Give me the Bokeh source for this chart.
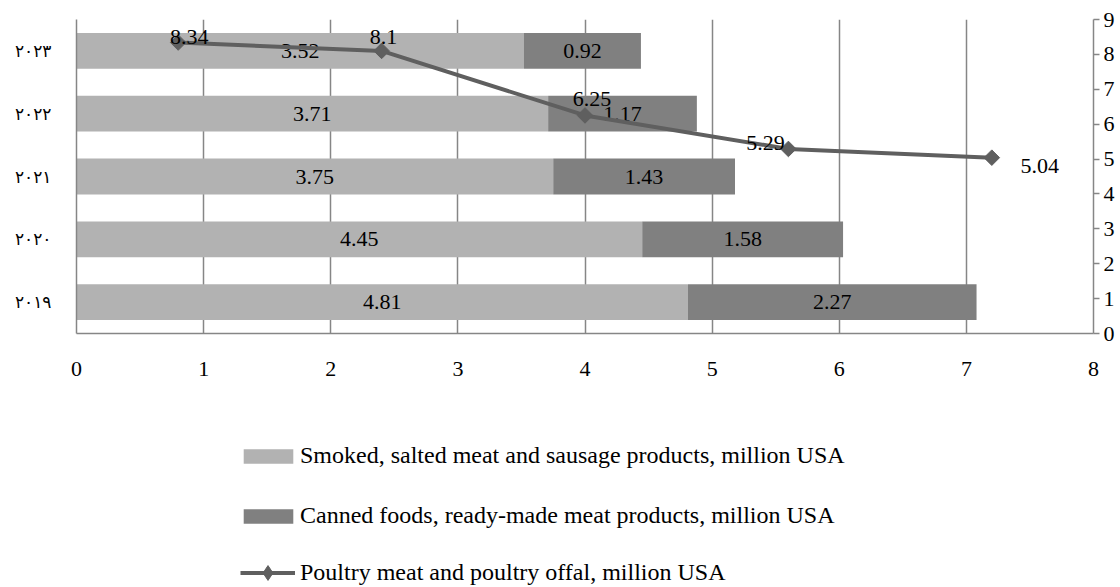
import numpy as np
from bokeh.plotting import figure
from bokeh.layouts import column
from bokeh.models import (ColumnDataSource, Range1d, LinearAxis,
                          FixedTicker, Legend, LegendItem)
from bokeh.core.properties import value
from bokeh.embed import file_html
from bokeh.resources import INLINE

# Years (Arabic-Indic digits), bottom to top on the bar axis
years = ["٢٠١٩", "٢٠٢٠", "٢٠٢١", "٢٠٢٢", "٢٠٢٣"]

# Export values, million USD
smoked = [4.81, 4.45, 3.75, 3.71, 3.52]
canned = [2.27, 1.58, 1.43, 1.17, 0.92]
poultry = [8.34, 8.1, 6.25, 5.29, 5.04]

x_ticks = [0, 1, 2, 3, 4, 5, 6, 7, 8]
right_ticks = [0, 1, 2, 3, 4, 5, 6, 7, 8, 9]

series_names = [
    "Smoked, salted meat and sausage products, million USA",
    "Canned foods, ready-made meat products, million USA",
    "Poultry meat and poultry offal, million USA",
]

# Pixel nudges for the poultry value labels
label_dx = [11, 2, 7, -23, 48]
label_dy = [-6, -14, -16, -6, 8]

LIGHT = "#b2b2b2"
DARK = "#808080"
LINE = "#5f5f5f"
GRID = "#868686"
FONT = "Liberation Serif"
SIZE = "22px"

# Category slots: each year occupies one unit, centred at i + 0.5
n = len(years)
slot = [i + 0.5 for i in range(n)]

p = figure(width=1120, height=420,
           x_range=Range1d(0, 8), y_range=Range1d(0, n),
           output_backend="svg", toolbar_location=None,
           min_border_left=76, min_border_right=27,
           min_border_top=19, min_border_bottom=87)
p.extra_x_ranges = {"line": Range1d(0, n)}
p.extra_y_ranges = {"right": Range1d(0, 9)}
p.outline_line_color = None
p.background_fill_color = "white"

# Stacked horizontal bars
src = ColumnDataSource(dict(pos=slot, smoked=smoked, canned=canned))
bars = p.hbar_stack(["smoked", "canned"], y="pos", height=0.57,
                    fill_color=[LIGHT, DARK], line_color=[LIGHT, DARK],
                    line_width=0, source=src)

# Bar segment labels
bar_lab = ColumnDataSource(dict(
    x=[s / 2 for s in smoked] + [s + c / 2 for s, c in zip(smoked, canned)],
    y=slot + slot,
    t=[f"{v:g}" for v in smoked + canned],
))
p.text(x="x", y="y", text="t", source=bar_lab, text_align="center",
       text_baseline="middle", text_font=value(FONT), text_font_size=SIZE,
       text_color="black")

# Poultry line on the secondary axes
line_src = ColumnDataSource(dict(pos=slot, v=poultry,
                                 t=[f"{v:g}" for v in poultry],
                                 dx=label_dx, dy=label_dy))
p.line("pos", "v", source=line_src, x_range_name="line",
       y_range_name="right", line_color=LINE, line_width=4)
p.scatter("pos", "v", source=line_src, x_range_name="line",
          y_range_name="right", marker="square", angle=np.pi / 4,
          size=11, fill_color=LINE, line_color=LINE)
p.text(x="pos", y="v", text="t", source=line_src, x_range_name="line",
       y_range_name="right", x_offset="dx", y_offset="dy",
       text_align="center", text_baseline="alphabetic",
       text_font=value(FONT), text_font_size=SIZE, text_color="black")

# Axes and grid
p.xaxis.ticker = FixedTicker(ticks=x_ticks)
p.xaxis.major_tick_line_color = None
p.xaxis.minor_tick_line_color = None
p.xaxis.axis_line_color = GRID
p.xaxis.axis_line_width = 1.5
p.xaxis.major_label_standoff = 22
p.xaxis.major_label_text_font = FONT
p.xaxis.major_label_text_font_size = SIZE
p.xaxis.major_label_text_color = "black"

p.yaxis.ticker = FixedTicker(ticks=slot)
p.yaxis.major_label_overrides = {s: y for s, y in zip(slot, years)}
p.yaxis.major_tick_line_color = None
p.yaxis.minor_tick_line_color = None
p.yaxis.axis_line_color = GRID
p.yaxis.axis_line_width = 1.5
p.yaxis.major_label_standoff = 19
p.yaxis.major_label_text_font = "DejaVu Sans"
p.yaxis.major_label_text_font_size = "17px"
p.yaxis.major_label_text_color = "black"

right_axis = LinearAxis(y_range_name="right", ticker=FixedTicker(ticks=right_ticks),
                        major_tick_in=0, major_tick_out=6,
                        minor_tick_line_color=None,
                        axis_line_color=GRID, axis_line_width=1.5,
                        major_tick_line_color=GRID, major_tick_line_width=1.5,
                        major_label_standoff=4,
                        major_label_text_font=FONT,
                        major_label_text_font_size=SIZE,
                        major_label_text_color="black")
p.add_layout(right_axis, "right")

p.xgrid.ticker = FixedTicker(ticks=x_ticks)
p.xgrid.grid_line_color = GRID
p.xgrid.grid_line_width = 1.5
p.ygrid.grid_line_color = None

# Legend strip underneath; its swatch renderers sit outside the strip's view
leg = figure(width=1120, height=167, x_range=Range1d(0, 1), y_range=Range1d(0, 1),
             x_axis_type=None, y_axis_type=None, output_backend="svg",
             toolbar_location=None, min_border=0)
leg.outline_line_color = None
leg.grid.grid_line_color = None

off = [-5.0]
sw_light = leg.hbar(y=off, left=off, right=off, height=1,
                    fill_color=LIGHT, line_color=LIGHT, line_width=0)
sw_dark = leg.hbar(y=off, left=off, right=off, height=1,
                   fill_color=DARK, line_color=DARK, line_width=0)
sw_line = leg.line(x=off, y=off, line_color=LINE, line_width=4)
sw_mark = leg.scatter(x=off, y=off, marker="diamond",
                      fill_color=LINE, line_color=LINE)

LEG_SIZE = "24px"
bar_legend = Legend(
    items=[LegendItem(label=series_names[0], renderers=[sw_light]),
           LegendItem(label=series_names[1], renderers=[sw_dark])],
    location=(161, 58), glyph_width=62, glyph_height=18,
    label_height=25, label_standoff=1, spacing=33, padding=0, margin=0,
    background_fill_alpha=0, border_line_color=None,
    label_text_font=FONT, label_text_font_size=LEG_SIZE, label_text_color="black")
line_legend = Legend(
    items=[LegendItem(label=series_names[2], renderers=[sw_line, sw_mark])],
    location=(164, -4), glyph_width=55, glyph_height=37,
    label_height=25, label_standoff=5, padding=0, margin=0,
    background_fill_alpha=0, border_line_color=None,
    label_text_font=FONT, label_text_font_size=LEG_SIZE, label_text_color="black")
leg.add_layout(bar_legend, "center")
leg.add_layout(line_legend, "center")

page = column(p, leg, spacing=0)
open("out.html", "w").write(file_html(page, INLINE))
